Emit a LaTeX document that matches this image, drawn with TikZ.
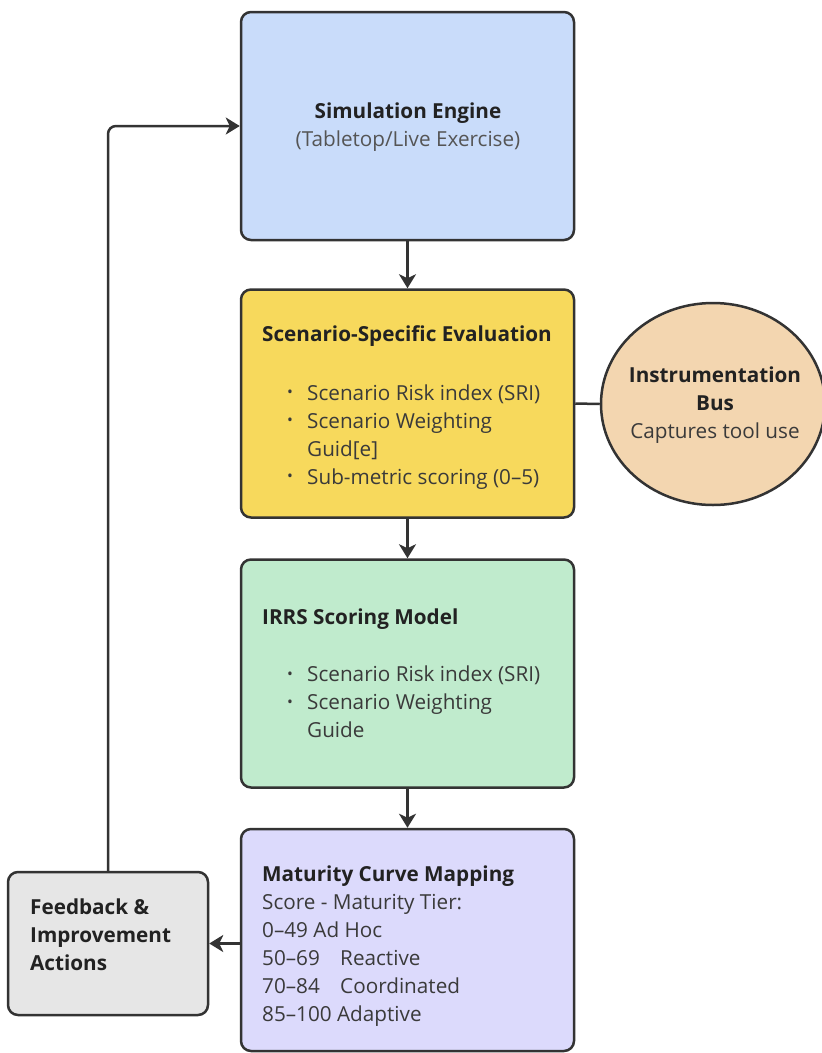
\documentclass[tikz,border=0pt]{standalone}
\usepackage{fontspec}
\usepackage{graphicx}
\setmainfont{Open Sans}
\usetikzlibrary{arrows.meta,shapes.geometric}
\definecolor{edge}{RGB}{51,51,51}
\definecolor{simblue}{RGB}{201,220,250}
\definecolor{evalyel}{RGB}{247,217,92}
\definecolor{irrsgrn}{RGB}{192,235,205}
\definecolor{matpur}{RGB}{220,218,252}
\definecolor{fbgray}{RGB}{230,230,230}
\definecolor{busorg}{RGB}{243,214,176}
\definecolor{titleink}{RGB}{34,34,34}
\definecolor{bodyink}{RGB}{58,58,58}
\definecolor{subink}{RGB}{85,85,85}
\newcommand\boxtitle[1]{{\bfseries\color{titleink}#1}}
\newcommand\bitem{\hspace*{25pt}\makebox[20pt][l]{\raisebox{0.1em}{\scalebox{0.75}{•}}}}
\begin{document}
\begin{tikzpicture}[x=1pt,y=-1pt,
  box/.style={draw=edge, line width=2.5pt, rounded corners=10pt, inner sep=0pt,
              minimum width=333pt, minimum height=228pt},
  txt/.style={font=\fontsize{20.7}{28}\selectfont, text=bodyink, inner sep=0pt, align=left},
  arr/.style={draw=edge, line width=2.5pt, -{Stealth[length=14pt,width=17pt,inset=4pt]}},
  plain/.style={draw=edge, line width=2.5pt}]
\clip (0,0) rectangle (822,1053);
\fill[white] (0,0) rectangle (822,1053);

% boxes
\node[box, fill=simblue] (sim) at (407.5,126) {};
\node[box, fill=evalyel] (eval) at (407.5,403.5) {};
\node[box, fill=irrsgrn] (irrs) at (407.5,673.5) {};
\node[box, fill=matpur, minimum height=222pt] (mat) at (407.5,940) {};
\node[box, fill=fbgray, minimum width=200pt, minimum height=143pt] (fb) at (108,943.5) {};
\node[draw=edge, line width=2.5pt, fill=busorg, ellipse, inner sep=0pt,
      minimum width=224pt, minimum height=202pt] (bus) at (713,404) {};

% texts
\node[txt, align=center] (simt) at (408,127)
  {\boxtitle{Simulation Engine}\\{\color{subink}(Tabletop/Live Exercise)}};

\node[txt, anchor=north west] (evalt) at (262,325)
  {\boxtitle{Scenario-Specific Evaluation}\\[31pt]
   \bitem Scenario Risk index (SRI)\\
   \bitem Scenario Weighting\\
   \hspace*{45pt}Guid[e]\\
   \bitem Sub-metric scoring (0–5)};

\node[txt, anchor=north west] (irrst) at (262,609)
  {\boxtitle{IRRS Scoring Model}\\[29pt]
   \bitem Scenario Risk index (SRI)\\
   \bitem Scenario Weighting\\
   \hspace*{45pt}Guide};

\node[txt, anchor=north west] (matt) at (262,866)
  {\boxtitle{Maturity Curve Mapping}\\
   Score - Maturity Tier:\\
   0–49 Ad Hoc\\
   \makebox[78pt][l]{50–69}Reactive\\
   \makebox[78pt][l]{70–84}Coordinated\\
   85–100 Adaptive};

\node[txt, anchor=north west] (fbt) at (30,899)
  {\boxtitle{Feedback \&}\\\boxtitle{Improvement}\\\boxtitle{Actions}};

\node[txt, align=center] (bust) at (715,405)
  {\boxtitle{Instrumentation}\\\boxtitle{Bus}\\Captures tool use};

% connectors
\draw[arr] (sim.south) -- (eval.north);
\draw[plain] (eval.east) -- (bus.west);
\draw[arr] (eval.south) -- (irrs.north);
\draw[arr] (irrs.south) -- (mat.north);
\draw[arr] (mat.west |- fb.east) -- (fb.east);
\draw[arr, rounded corners=8pt] (fb.north) |- (sim.west);
\end{tikzpicture}
\end{document}
